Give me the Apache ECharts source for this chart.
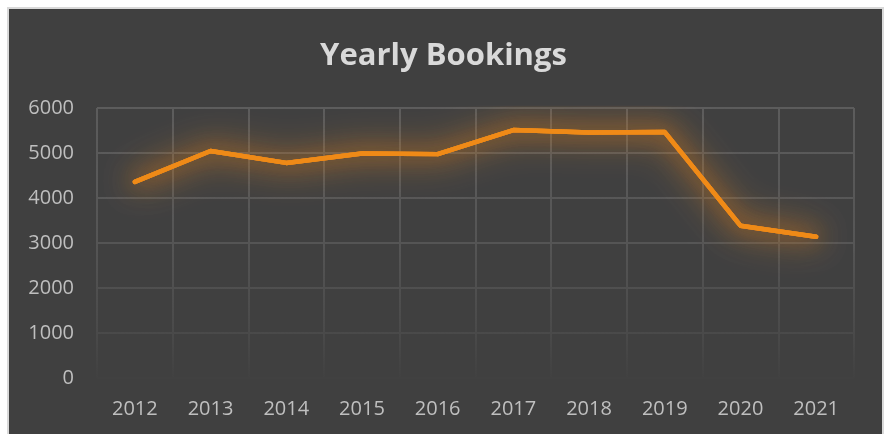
<!DOCTYPE html>
<html>
<head>
<meta charset="utf-8">
<title>Yearly Bookings</title>
<script src="https://cdn.jsdelivr.net/npm/echarts@6/dist/echarts.min.js"></script>
<style>
  html, body { margin: 0; padding: 0; background: #ffffff; }
  body { width: 887px; height: 434px; position: relative; overflow: hidden; }
  /* 外框：浅灰边 + 深灰底 */
  .frame {
    position: absolute; left: 7px; top: 7px; width: 873px; height: 430px;
    border: 2px solid #d9d9d9; border-bottom: none; background: #404040;
  }
  #chart { position: absolute; left: 0; top: 0; width: 887px; height: 434px; }
</style>
</head>
<body>
<div class="frame"></div>
<div id="chart"></div>
<script>
// 数据
const years = ['2012', '2013', '2014', '2015', '2016', '2017', '2018', '2019', '2020', '2021'];
const bookings = [4360, 5045, 4780, 4990, 4975, 5510, 5455, 5465, 3385, 3140];
const yMin = 0;
const yMax = 6000;
const yStep = 1000;

const labelFont = '"Open Sans", "Noto Sans", sans-serif';

// 网格线：上深下淡（全局坐标渐变）
const gridTop = 108;
const gridBottom = 378;
const gridLineColor = {
  type: 'linear', x: 0, y: gridTop, x2: 0, y2: gridBottom, global: true,
  colorStops: [
    { offset: 0, color: '#5c5c5c' },
    { offset: 0.5, color: '#555555' },
    { offset: 0.83, color: '#4a4a4a' },
    { offset: 1, color: '#414141' }
  ]
};

const chart = echarts.init(document.getElementById('chart'), null, { renderer: 'canvas' });

// 折线样式（光晕层和主线共用宽度，光晕层藏在主线下面）
const lineWidth = 4.5;
const glowLayer = (blur, alpha, z) => ({
  type: 'line',
  data: bookings,
  showSymbol: false,
  symbol: 'none',
  silent: true,
  z: z,
  lineStyle: {
    color: '#ef8a17',
    width: lineWidth,
    cap: 'round',
    join: 'round',
    shadowColor: 'rgba(230, 130, 25, ' + alpha + ')',
    shadowBlur: blur
  }
});

chart.setOption({
  backgroundColor: 'transparent',
  animation: false,
  title: {
    text: 'Yearly Bookings',
    left: 'center',
    top: 36,
    textStyle: {
      color: '#d9d9d9',
      fontFamily: labelFont,
      fontWeight: 'bold',
      fontSize: 31
    }
  },
  grid: {
    left: 97,
    right: 33,
    top: gridTop,
    bottom: 434 - gridBottom,
    containLabel: false,
    outerBoundsMode: 'none'
  },
  xAxis: {
    type: 'category',
    data: years,
    boundaryGap: true,
    axisLine: { show: false },
    axisTick: { show: false },
    axisLabel: {
      color: '#bfbfbf',
      fontFamily: labelFont,
      fontSize: 20,
      margin: 21
    },
    splitLine: {
      show: true,
      lineStyle: { color: gridLineColor, width: 2 }
    }
  },
  yAxis: {
    type: 'value',
    min: yMin,
    max: yMax,
    interval: yStep,
    axisLine: { show: false },
    axisTick: { show: false },
    axisLabel: {
      color: '#bfbfbf',
      fontFamily: labelFont,
      fontSize: 20,
      margin: 23,
      formatter: (v) => String(v)
    },
    splitLine: {
      show: true,
      lineStyle: { color: gridLineColor, width: 2 }
    }
  },
  series: [
    glowLayer(40, 0.9, 1),
    glowLayer(30, 0.8, 1),
    {
      name: 'Bookings',
      type: 'line',
      data: bookings,
      showSymbol: false,
      symbol: 'none',
      z: 2,
      lineStyle: {
        color: '#ef8a17',
        width: lineWidth,
        cap: 'round',
        join: 'round',
        shadowColor: 'rgba(230, 130, 25, 0.7)',
        shadowBlur: 20
      }
    }
  ]
});
</script>
</body>
</html>
